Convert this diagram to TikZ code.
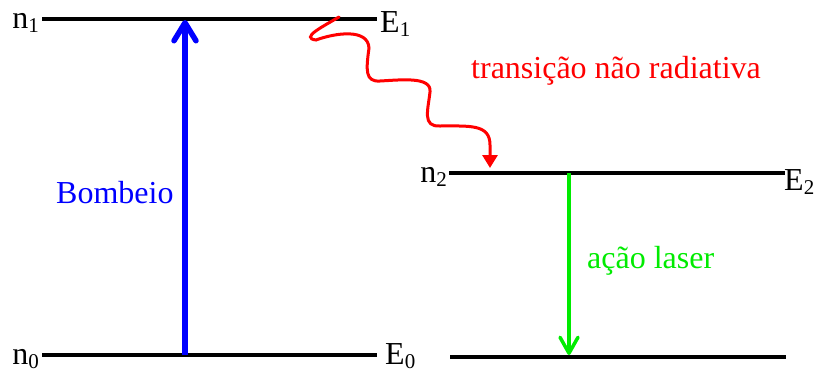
\documentclass[tikz,border=0pt]{standalone}
\usepackage{fontspec}
\setmainfont{Liberation Serif}
\usetikzlibrary{arrows.meta}
\definecolor{lgreen}{RGB}{0,235,0}
\newcommand\lowsub[1]{\raisebox{-4pt}{\fontsize{21}{21}\selectfont #1}}
\tikzset{
  level/.style={line width=3.5pt},
  lbl/.style={font=\fontsize{32}{36}\selectfont, inner sep=0pt},
  pump/.style={blue, line width=5.5pt, -{Straight Barb[length=18pt,width=22pt,round]}},
  lase/.style={lgreen, line width=3.5pt, -{Straight Barb[length=16pt,width=18pt,round]}},
  wave/.style={red, line width=3pt, line cap=round, -{Triangle[length=13pt,width=15pt]}},
}
\begin{document}
\begin{tikzpicture}[x=1pt,y=-1pt]
\useasboundingbox (0,0) rectangle (816,372);
% levels
\coordinate (l1a) at (42,19);  \coordinate (l1b) at (377,19);
\coordinate (l0a) at (42,355); \coordinate (l0b) at (377,355);
\coordinate (l2a) at (449,173); \coordinate (l2b) at (785,173);
\coordinate (l3a) at (450,357); \coordinate (l3b) at (786,357);
\draw[level] (l1a) -- (l1b);
\draw[level] (l0a) -- (l0b);
\draw[level] (l2a) -- (l2b);
\draw[level] (l3a) -- (l3b);
% labels
\node[lbl, anchor=base east] (n1) at (39,28) {n\lowsub{1}};
\node[lbl, anchor=base west] (E1) at (380,32) {E\lowsub{1}};
\node[lbl, anchor=base east] (n0) at (39,364) {n\lowsub{0}};
\node[lbl, anchor=base west] (E0) at (385,364) {E\lowsub{0}};
\node[lbl, anchor=base east] (n2) at (447,182) {n\lowsub{2}};
\node[lbl, anchor=base west] (E2) at (784,190) {E\lowsub{2}};
\node[lbl, anchor=base west, text=blue] (bomb) at (56,203) {Bombeio};
\node[lbl, anchor=base west, text=red] (trans) at (471,78) {transição não radiativa};
\node[lbl, anchor=base west, text=lgreen] (acao) at (587,268) {ação laser};
% arrows
\coordinate (p0) at (185,355); \coordinate (p1) at (185,20);
\draw[pump] (p0) -- (p1);
\coordinate (g0) at (569,173); \coordinate (g1) at (569,355);
\draw[lase] (g0) -- (g1);
\coordinate (w0) at (339,17); \coordinate (w1) at (490,168);
\draw[wave] (w0) .. controls (322,27) and (300,38) .. (316,40)
  .. controls (335,33) and (368,28) .. (369,48)
  .. controls (366,70) and (365,82) .. (380,81)
  .. controls (400,80) and (432,76) .. (430,92)
  .. controls (428,110) and (422,127) .. (440,126)
  .. controls (470,126) and (490,124) .. (490,145)
  -- (w1);
\end{tikzpicture}
\end{document}
